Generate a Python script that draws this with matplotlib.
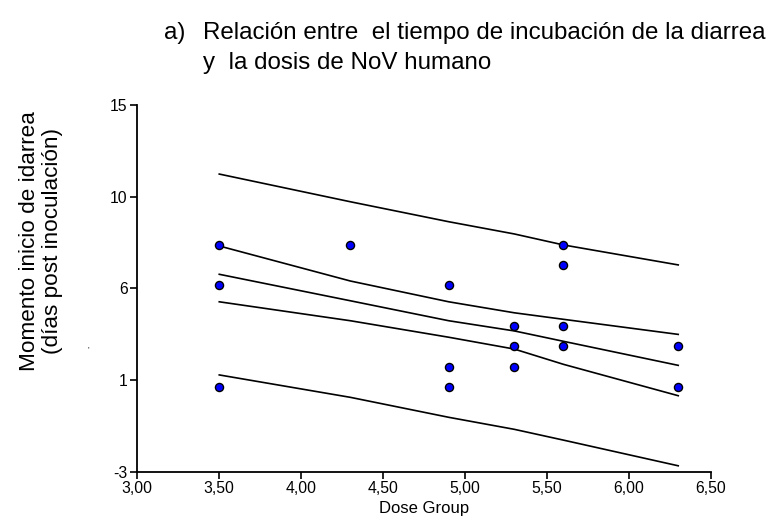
import numpy as np
import matplotlib
matplotlib.use("Agg")
import matplotlib.pyplot as plt

plt.rcParams['font.family'] = ['Liberation Sans', 'DejaVu Sans']

# observed points (dose group, onset day)
dose = [3.5, 3.5, 3.5, 4.3, 4.9, 4.9, 4.9, 5.3, 5.3, 5.3, 5.6, 5.6, 5.6, 5.6, 6.3, 6.3]
onset = [8, 6, 1, 8, 6, 2, 1, 4, 3, 2, 8, 7, 4, 3, 3, 1]

# fit line and bands, read at each dose group
grid = [3.5, 4.3, 4.9, 5.3, 5.6, 6.3]
pred_hi = [11.46, 10.10, 9.12, 8.52, 7.98, 7.00]
conf_hi = [7.93, 6.21, 5.19, 4.65, 4.33, 3.59]
fit = [6.54, 5.24, 4.26, 3.76, 3.25, 2.07]
conf_lo = [5.19, 4.26, 3.45, 2.87, 2.12, 0.58]
pred_lo = [1.60, 0.50, -0.48, -1.07, -1.60, -2.86]

xticks = np.arange(3.0, 6.51, 0.5)
ylo, yhi = -3.15, 14.85
yticks = np.linspace(ylo, yhi, 5)

fig = plt.figure(figsize=(7.74, 5.30), dpi=100)
ax = fig.add_axes([0.1774, 0.110, 0.7412, 0.6919])

for band in [pred_hi, conf_hi, fit, conf_lo, pred_lo]:
    ax.plot(grid, band, color='black', lw=1.2)

ax.scatter(dose, onset, s=34, color='#0000ff', edgecolors='black',
           linewidths=1.0, zorder=3)

ax.set_xlim(3.0, 6.5)
ax.set_ylim(ylo, yhi)
ax.set_xticks(xticks)
ax.set_xticklabels([('%.2f' % v).replace('.', ',') for v in xticks])
ax.set_yticks(yticks)
ax.set_yticklabels(['%.0f' % v for v in yticks])
ax.tick_params(labelsize=11.3, length=5, width=1.2, direction='out', pad=2)
for s in ['top', 'right']:
    ax.spines[s].set_visible(False)
for s in ['left', 'bottom']:
    ax.spines[s].set_linewidth(1.3)

ax.set_xlabel('Dose Group', fontsize=12, labelpad=3)

fig.text(41 / 774, 1 - 241 / 530, 'Momento inicio de idarrea\n(días post inoculación)',
         rotation=90, fontsize=16.2, ha='center', va='center', linespacing=1.15)
fig.text(88 / 774, 1 - 350 / 530, "'", fontsize=6, ha='center', va='center')

fig.text(164 / 774, 1 - 33 / 530, 'a)', fontsize=17.4, ha='left', va='center')
fig.text(203 / 774, 1 - 33 / 530, 'Relación entre  el tiempo de incubación de la diarrea',
         fontsize=17.4, ha='left', va='center')
fig.text(203 / 774, 1 - 63 / 530, 'y  la dosis de NoV humano',
         fontsize=17.4, ha='left', va='center')

fig.savefig('out.png', dpi=100)
